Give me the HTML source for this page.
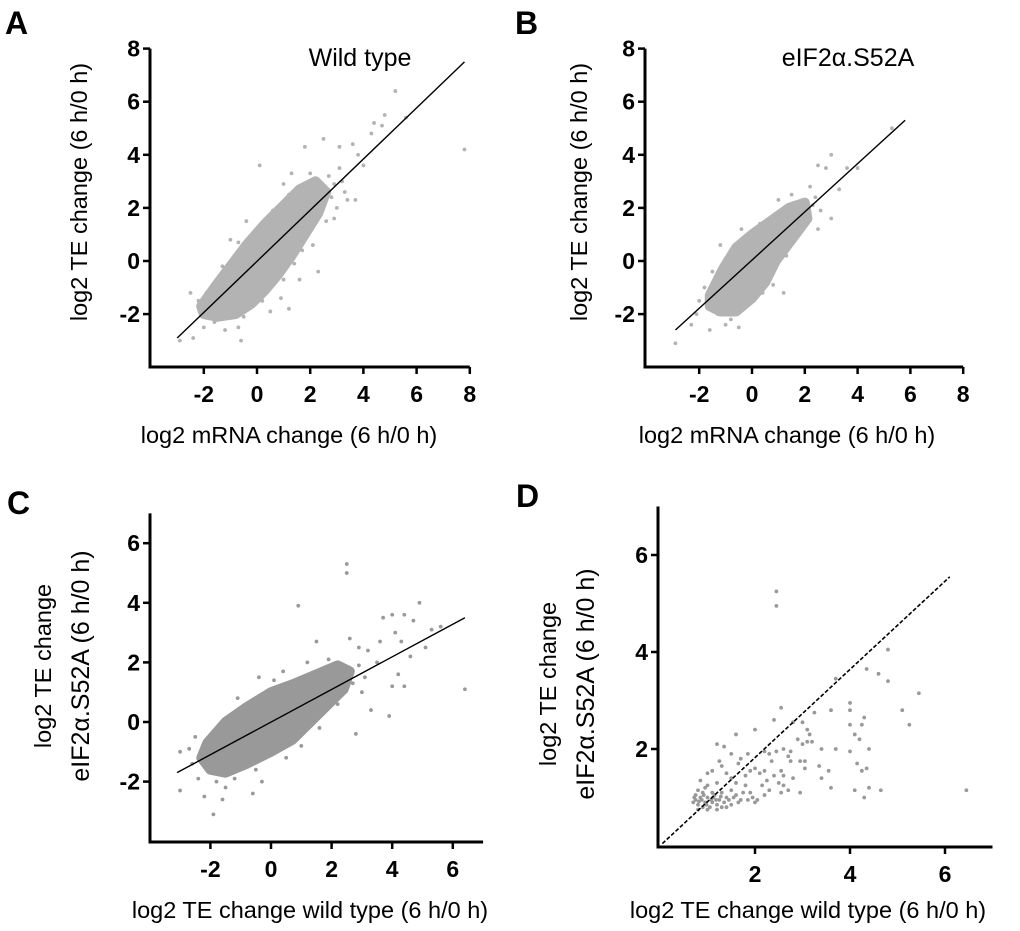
<!DOCTYPE html>
<html><head><meta charset="utf-8"><style>
html,body{margin:0;padding:0;background:#fff;}
svg{display:block;font-family:"Liberation Sans",Arial,sans-serif;}
.tk{font-weight:bold;font-size:23px;}
</style></head><body>
<svg id="fig" width="1020" height="931" viewBox="0 0 1020 931">
<g id="root"></g>
</svg>
<script>
// ---- Panel A data ----
const aCloud=[[-2.1,-1.7],[-1.6,-1.0],[-1.0,-0.2],[-0.4,0.6],[0.3,1.4],[1.0,2.1],[1.6,2.7],[2.2,3.0],[2.6,2.6],[2.3,1.8],[1.8,1.0],[1.3,0.2],[0.8,-0.5],[0.3,-1.1],[-0.2,-1.6],[-0.8,-2.0],[-1.5,-2.1],[-2.0,-2.0]];
const aPoints=[[5.2,6.4],[7.8,4.2],[4.4,5.2],[4.7,5.1],[4.3,4.8],[3.1,4.3],[2.5,4.6],[1.8,4.3],[0.1,3.6],[3.6,4.4],[3.8,4.0],[4.0,3.6],[3.4,2.3],[3.7,2.3],[2.3,-0.4],[1.6,-0.7],[1.2,-1.8],[-0.6,-3.0],[-2.5,-1.2],[-2.4,-2.9],[-2.9,-3.0],[-2.0,-2.5],[-1.6,-2.3],[-0.7,-2.5],[3.0,2.0],[2.9,1.6],[3.1,3.5],[4.8,5.5],[5.6,5.4],[2.7,3.2],[1.3,3.3],[1.0,2.9],[2.0,3.3],[2.5,2.8],[3.2,3.0],[-2.2,-1.5],[-1.2,-2.6],[0.5,-1.9],[0.9,-1.4],[-0.4,1.5],[-1.0,0.8],[2.1,0.6],[1.4,-0.1],[-1.3,-0.2],[-0.7,0.7],[0.0,1.2],[0.6,1.9],[1.2,2.5],[2.8,2.4],[2.6,1.5],[1.7,0.4],[1.0,-0.7],[0.2,-1.5],[-0.5,-2.1],[-1.9,-1.2],[2.9,2.9],[3.3,2.6]];
const aLine=[[-3,-2.9],[7.8,7.5]];
// ---- Panel B data ----
const bCloud=[[-1.6,-1.3],[-1.1,-0.3],[-0.6,0.5],[0,1.0],[0.7,1.5],[1.4,2.0],[2.0,2.2],[2.1,1.6],[1.5,0.8],[0.9,0.0],[0.5,-0.8],[0,-1.4],[-0.6,-1.9],[-1.2,-1.9],[-1.6,-1.7]];
const bPoints=[[5.3,5.0],[3.0,4.0],[2.8,3.5],[2.5,3.6],[3.6,3.5],[4.0,3.5],[3.3,2.7],[3.0,1.6],[2.3,2.1],[2.5,1.2],[-2.9,-3.1],[-1.6,-2.6],[-2.1,-2.0],[-0.5,-2.5],[-0.8,-2.2],[-1.8,-1.0],[1.2,-1.2],[0.8,-0.9],[-2.3,-2.4],[1.0,2.3],[1.5,2.5],[2.2,2.8],[-1.2,0.6],[-0.4,1.2],[-1.0,-2.4],[-2.0,-1.5],[2.4,2.4],[2.6,1.9],[1.8,1.0],[-1.5,-0.4],[0.3,1.4],[1.3,0.2],[0.4,-1.2],[-1.3,-2.0]];
const bLine=[[-2.9,-2.6],[5.8,5.3]];
// ---- Panel C data ----
const cCloud=[[-2.1,-0.7],[-1.5,0.0],[-0.8,0.5],[0,1.0],[0.8,1.3],[1.5,1.6],[2.2,1.9],[2.6,1.7],[2.4,1.1],[1.8,0.5],[1.3,0.0],[0.7,-0.6],[0,-1.0],[-0.8,-1.4],[-1.5,-1.7],[-2.0,-1.6],[-2.3,-1.2]];
const cPoints=[[2.5,5.3],[2.5,5.0],[0.9,3.9],[4.9,4.0],[4.4,3.6],[4.7,3.4],[3.7,3.5],[4.0,3.6],[5.3,3.1],[5.6,3.2],[6.4,1.1],[4.1,3.0],[4.3,2.7],[4.2,1.6],[4.4,1.2],[4.0,1.2],[3.5,2.0],[3.9,0.2],[2.8,-0.4],[2.2,0.6],[-3.0,-2.3],[-2.2,-2.5],[-1.9,-3.1],[-1.6,-2.6],[-0.6,-2.4],[-2.4,-1.9],[-3.0,-1.0],[-2.5,-0.5],[-0.3,-2.0],[-0.5,-1.6],[1.5,2.7],[1.7,1.8],[2.9,2.5],[3.2,2.4],[3.6,2.7],[1.0,-0.8],[-1.5,-2.2],[5.1,2.5],[4.6,2.2],[3.0,1.0],[3.3,0.4],[2.6,2.8],[-1.1,0.8],[-0.4,1.5],[0.4,1.7],[1.2,2.0],[-2.6,-1.4],[2.9,1.9],[3.1,1.5],[2.7,1.3],[-1.8,-2.0],[-2.7,-0.9],[0.5,-1.2],[1.6,-0.2],[-1.2,-1.9],[0.1,1.4],[1.9,2.1]];
const cLine=[[-3.1,-1.7],[6.4,3.5]];
// ---- Panel D data ----
const dPoints=[[2.45,5.25],[2.45,4.95],[4.8,4.05],[4.35,3.65],[4.6,3.55],[4.8,3.4],[5.45,3.15],[3.7,3.45],[2.55,2.85],[2.4,2.6],[3.25,2.75],[3.6,2.8],[4.0,2.95],[4.0,2.8],[4.3,2.65],[4.0,2.5],[4.25,2.5],[5.1,2.8],[5.25,2.5],[2.8,2.55],[3.0,2.55],[3.1,2.4],[3.15,2.3],[2.9,2.2],[3.0,2.1],[3.1,2.15],[3.2,2.15],[3.4,2.0],[3.7,2.0],[4.1,2.3],[4.2,2.2],[4.0,1.95],[4.4,2.0],[4.15,1.7],[4.25,1.55],[4.35,1.6],[4.1,1.15],[4.3,1.0],[4.4,1.2],[4.65,1.15],[6.45,1.15],[3.6,1.2],[3.4,1.4],[3.55,1.55],[3.35,1.65],[2.95,1.75],[3.05,1.75],[2.95,1.1],[3.05,1.6],[2.75,1.95],[2.7,1.85],[2.75,1.75],[2.6,2.0],[2.45,1.95],[2.3,1.9],[2.2,1.95],[2.35,1.75],[2.55,1.55],[2.4,1.45],[2.2,1.55],[2.1,1.5],[2.0,1.6],[1.9,1.55],[1.8,1.45],[2.25,1.35],[2.15,1.25],[2.5,1.3],[2.6,1.25],[2.7,1.15],[2.55,1.1],[1.7,1.8],[1.65,1.7],[1.5,1.9],[1.4,1.5],[1.3,1.65],[1.5,1.4],[1.6,1.3],[1.8,1.25],[1.9,1.1],[1.95,1.0],[2.05,0.95],[2.0,0.9],[1.7,0.95],[1.6,1.05],[1.5,1.15],[1.4,1.0],[1.3,1.1],[1.2,1.3],[1.1,1.55],[1.0,1.5],[0.85,1.35],[1.2,2.1],[1.35,2.05],[1.6,2.3],[2.0,2.4],[1.85,1.9],[1.25,1.75],[1.0,1.25],[0.8,1.15],[1.1,0.9],[1.2,0.85],[0.9,0.8],[1.5,0.85],[0.75,0.95],[0.8,0.85],[0.85,1.0],[0.95,0.9],[1.0,1.0],[1.05,0.8],[1.15,1.05],[1.25,0.95],[1.3,0.8],[1.35,0.9],[1.45,0.95],[0.75,1.05],[0.9,1.1],[1.0,0.75],[1.1,1.1],[1.2,0.75],[1.4,0.8],[0.8,0.75],[0.95,1.2],[1.55,1.0],[1.65,0.9],[1.75,1.1],[1.85,0.95],[2.2,1.05],[2.3,1.15],[2.6,1.45],[2.8,1.4],[0.7,0.9],[0.72,1.0],[0.88,0.95],[0.92,1.05],[1.08,0.95],[1.12,1.0],[1.18,0.95],[1.28,1.02],[0.98,0.85],[0.82,0.92]];
const dLine=[[0.05,0.05],[6.1,5.55]];
// ---- Axes ----
const axA={ox:150,oy:367,x0:-4,x1:8,y0:-4,y1:8,xs:26.6,ys:26.55,x0px:257,y0px:261,xticks:[-2,0,2,4,6,8],yticks:[-2,0,2,4,6,8]};
const axB={ox:645,oy:367,x0:-4,x1:8,y0:-4,y1:8,xs:26.4,ys:26.55,x0px:752,y0px:261,xticks:[-2,0,2,4,6,8],yticks:[-2,0,2,4,6,8]};
const axC={ox:150,oy:842,x0:-4,x1:7,y0:-4,y1:7,xs:30.3,ys:29.8,x0px:271,y0px:722,xticks:[-2,0,2,4,6],yticks:[-2,0,2,4,6]};
const axD={ox:658,oy:847,x0:0,x1:7,y0:0,y1:7,xs:47.5,ys:48.5,x0px:660,y0px:846,xticks:[2,4,6],yticks:[2,4,6]};

const NS="http://www.w3.org/2000/svg";
const root=document.getElementById('root');
function mk(tag,attrs,parent){const e=document.createElementNS(NS,tag);for(const k in attrs)e.setAttribute(k,attrs[k]);(parent||root).appendChild(e);return e;}
function sx(ax,v){return ax.x0px+v*ax.xs;}
function sy(ax,v){return ax.y0px-v*ax.ys;}

function panel(id,ax,cloud,pts,line,col,dashed){
  const g=mk('g',{});
  
  
  if(cloud){
    const p=mk('polygon',{points:cloud.map(d=>sx(ax,d[0])+','+sy(ax,d[1])).join(' '),fill:col,stroke:col,'stroke-width':10,'stroke-linejoin':'round'},g);
    
    
  }
  pts.forEach(d=>{
    const c=mk('circle',{cx:sx(ax,d[0]),cy:sy(ax,d[1]),r:1.9,fill:col},g);
    
    
  });
  const l=mk('line',{x1:sx(ax,line[0][0]),y1:sy(ax,line[0][1]),x2:sx(ax,line[1][0]),y2:sy(ax,line[1][1]),stroke:'#000','stroke-width':dashed?1.6:1.4},g);
  if(dashed)l.setAttribute('stroke-dasharray','4,2');
  
  
  const xr=sx(ax,ax.x1), yt=sy(ax,ax.y1);
  const xa=mk('line',{x1:ax.ox-1.5,y1:ax.oy,x2:xr,y2:ax.oy,stroke:'#000','stroke-width':3},g);
  
  
  const ya=mk('line',{x1:ax.ox,y1:ax.oy+1.5,x2:ax.ox,y2:yt,stroke:'#000','stroke-width':3},g);
  
  
  ax.xticks.forEach(v=>{
    const x=sx(ax,v);
    const t=mk('line',{x1:x,y1:ax.oy,x2:x,y2:ax.oy+7,stroke:'#000','stroke-width':2.5},g);
    
    
    const tx=mk('text',{x:x,y:ax.oy+35,'text-anchor':'middle',class:'tk'},g);
    tx.textContent=String(v);
    
    
  });
  ax.yticks.forEach(v=>{
    const y=sy(ax,v);
    const t=mk('line',{x1:ax.ox-7,y1:y,x2:ax.ox,y2:y,stroke:'#000','stroke-width':2.5},g);
    
    
    const tx=mk('text',{x:ax.ox-10,y:y+8,'text-anchor':'end',class:'tk'},g);
    tx.textContent=String(v);
    
    
  });
}
panel('a',axA,aCloud,aPoints,aLine,'#b3b3b3',false);
panel('b',axB,bCloud,bPoints,bLine,'#b3b3b3',false);
panel('c',axC,cCloud,cPoints,cLine,'#999999',false);
panel('d',axD,null,dPoints,dLine,'#999999',true);
</script>
<svg width="1020" height="931" style="position:absolute;left:0;top:0">
<g style="font-weight:bold;font-size:32px">
<text x="5" y="34">A</text>
<text x="515" y="34">B</text>
<text x="7" y="514">C</text>
<text x="516" y="507">D</text>
</g>
<text x="360" y="66" text-anchor="middle" style="font-size:25px">Wild type</text>
<text x="848" y="66" text-anchor="middle" style="font-size:25px">eIF2α.S52A</text>
<g style="font-size:23.5px">
<text x="289" y="443" text-anchor="middle">log2 mRNA change (6 h/0 h)</text>
<text x="787" y="443" text-anchor="middle">log2 mRNA change (6 h/0 h)</text>
<text x="310" y="918" text-anchor="middle">log2 TE change wild type (6 h/0 h)</text>
<text x="808" y="918" text-anchor="middle">log2 TE change wild type (6 h/0 h)</text>
<text transform="translate(87,192) rotate(-90)" text-anchor="middle">log2 TE change (6 h/0 h)</text>
<text transform="translate(587,192) rotate(-90)" text-anchor="middle">log2 TE change (6 h/0 h)</text>
<text transform="translate(51,666) rotate(-90)" text-anchor="middle">log2 TE change</text>
<text transform="translate(556,684) rotate(-90)" text-anchor="middle">log2 TE change</text>
</g>
<g style="font-size:25px">
<text transform="translate(89,666) rotate(-90)" text-anchor="middle">eIF2α.S52A (6 h/0 h)</text>
<text transform="translate(594,684) rotate(-90)" text-anchor="middle">eIF2α.S52A (6 h/0 h)</text>
</g>
</svg>
</body></html>
